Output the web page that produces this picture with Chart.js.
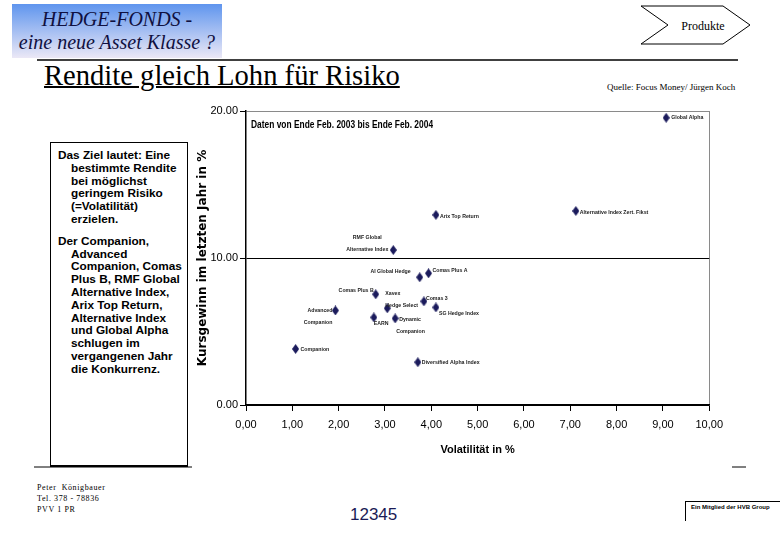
<!DOCTYPE html>
<html>
<head>
<meta charset="utf-8">
<script src="https://cdn.jsdelivr.net/npm/chart.js@4.4.1/dist/chart.umd.min.js"></script>
<style>
  body { margin: 0; background: #fff; width: 780px; height: 540px; position: relative; overflow: hidden; }
  .abs { position: absolute; white-space: nowrap; }
  #kopf {
    left: 12px; top: 4px; width: 210px; height: 54px;
    background: linear-gradient(#5f95ee, #ebe8f6);
    font: italic 20px "Liberation Serif", serif; color: #101040;
    text-align: center; line-height: 23px; padding-top: 4px; box-sizing: border-box;
  }
  #titel { left: 44px; top: 60px; font: 28.6px "Liberation Serif", serif; text-decoration: underline; text-decoration-thickness: 1.5px; }
  #quelle { left: 607px; top: 82px; font: 9px "Liberation Serif", serif; }
  #textbox {
    left: 50px; top: 142px; width: 138px; height: 325px; box-sizing: border-box;
    border: 1px solid #000; border-bottom: 2px solid #000;
    font: bold 11.8px "Liberation Sans", sans-serif; white-space: normal; color: #000;
  }
  #textbox p { margin: 0 0 9px 0; padding-left: 20px; text-indent: -13px; line-height: 12.8px; }
  #textbox p:first-child { margin-top: 6px; }
  #fuss { left: 37px; top: 482px; font: 8px "Liberation Serif", serif; line-height: 11px; letter-spacing: 0.6px; }
  #nummer { left: 350px; top: 505px; font: 17px "Liberation Sans", sans-serif; color: #1a1a55; }
  #hvb { left: 685px; top: 501px; width: 100px; height: 20px; border-top: 1px solid #000; border-left: 1px solid #000; font: bold 6px "Liberation Sans", sans-serif; padding: 2px 0 0 5px; box-sizing: border-box; }
  #datenTitel { left: 251px; top: 118px; font: bold 10.5px "Liberation Sans", sans-serif; transform: scaleX(0.8); transform-origin: left top; }
  canvas { position: absolute; left: 190px; top: 100px; }
</style>
</head>
<body>
<div id="kopf" class="abs">HEDGE-FONDS -<br>eine neue Asset Klasse ?</div>
<svg class="abs" style="left:0;top:0" width="780" height="540">
  <polygon points="641,6 723,6 750,25 723,44 641,44 668,25" fill="none" stroke="#000" stroke-width="1"/>
  <text x="703" y="30" font-family="Liberation Serif" font-size="12" text-anchor="middle">Produkte</text>
  <line x1="37" y1="60" x2="738" y2="60" stroke="#000" stroke-width="1.5"/>
  <line x1="34" y1="467" x2="192" y2="467" stroke="#000" stroke-width="1"/>
  <line x1="732" y1="467" x2="746" y2="467" stroke="#000" stroke-width="1"/>
</svg>
<div id="titel" class="abs">Rendite gleich Lohn für Risiko</div>
<div id="quelle" class="abs">Quelle: Focus Money/ Jürgen Koch</div>
<div id="textbox" class="abs">
  <p>Das Ziel lautet: Eine bestimmte Rendite bei möglichst geringem Risiko (=Volatilität) erzielen.</p>
  <p>Der Companion, Advanced Companion, Comas Plus B, RMF Global Alternative Index, Arix Top Return, Alternative Index und Global Alpha schlugen im vergangenen Jahr die Konkurrenz.</p>
</div>
<div id="fuss" class="abs">Peter&nbsp;&nbsp;Königbauer<br>Tel. 378 - 78836<br>PVV 1 PR</div>
<div id="nummer" class="abs">12345</div>
<div id="hvb" class="abs">Ein Mitglied der HVB Group</div>

<canvas id="streuung" width="540" height="365"></canvas>
<div id="datenTitel" class="abs">Daten von Ende Feb. 2003 bis Ende Feb. 2004</div>

<script>
// Fonds-Namen (Zeilenumbruch = zweite Zeile der Beschriftung)
var fonds = [
  'Global Alpha',
  'Arix Top Return',
  'Alternative Index Zert. Fikst',
  'RMF Global\nAlternative Index',
  'AI Global Hedge',
  'Comas Plus A',
  'Comas Plus B',
  'Xavex\nHedge Select',
  'Comas 3',
  'SG Hedge Index',
  'Advanced\nCompanion',
  'EARN',
  'Dynamic\nCompanion',
  'Companion',
  'Diversified Alpha Index'
];
// Volatilität in %
var volatilitaet = [9.07, 4.10, 7.12, 3.18, 3.75, 3.94, 2.80, 3.05, 3.84, 4.10, 1.93, 2.76, 3.22, 1.07, 3.71];
// Kursgewinn im letzten Jahr in %
var kursgewinn = [19.54, 12.93, 13.20, 10.54, 8.69, 8.96, 7.53, 6.58, 7.05, 6.64, 6.43, 5.96, 5.89, 3.81, 2.91];

var xTickLabels = ['0,00', '1,00', '2,00', '3,00', '4,00', '5,00', '6,00', '7,00', '8,00', '9,00', '10,00'];
var yTickLabels = ['0.00', '10.00', '20.00'];

// wo die Beschriftung neben dem Punkt steht: [dx, dy, Ausrichtung]
var labelLage = [
  [5, 0, 'left'], [4, 1, 'left'], [4, 1, 'left'], [-26, -13, 'center'],
  [-9, -6, 'right'], [4, -3, 'left'], [-2, -4, 'right'], [-2, -15, 'left'],
  [2, -3, 'left'], [3, 6, 'left'], [-3, 0, 'right'], [0, 6, 'left'],
  [4, 1, 'left'], [5, 0, 'left'], [4, 0, 'left']
];

function makeDiamond() {
  var c = document.createElement('canvas');
  c.width = 7; c.height = 10;
  var g = c.getContext('2d');
  g.fillStyle = '#1b1b5c';
  g.beginPath();
  g.moveTo(3.5, 0); g.lineTo(7, 5); g.lineTo(3.5, 10); g.lineTo(0, 5);
  g.closePath();
  g.fill();
  return c;
}

var pointLabels = {
  id: 'pointLabels',
  afterDatasetsDraw: function(chart) {
    var ctx = chart.ctx;
    var meta = chart.getDatasetMeta(0);
    ctx.save();
    ctx.font = 'bold 6px "Liberation Sans", sans-serif';
    ctx.fillStyle = '#222';
    ctx.textBaseline = 'middle';
    meta.data.forEach(function(pt, i) {
      var lage = labelLage[i];
      var zeilen = fonds[i].split('\n');
      ctx.textAlign = lage[2];
      for (var k = 0; k < zeilen.length; k++) {
        var dy = lage[1] + k * 12;
        var dx = lage[0];
        if (i === 12 && k === 1) { dx = 1; }
        ctx.save();
        ctx.translate(pt.x + dx, pt.y + dy);
        ctx.scale(0.87, 1);
        ctx.fillText(zeilen[k], 0, 0);
        ctx.restore();
      }
    });
    ctx.restore();
  }
};

function drawChart() {
  var punkte = [];
  for (var i = 0; i < fonds.length; i++) {
    punkte.push({ x: volatilitaet[i], y: kursgewinn[i] });
  }

  var tickFont = { family: 'Liberation Sans', size: 11 };
  var ctx = document.getElementById('streuung').getContext('2d');
  new Chart(ctx, {
    type: 'scatter',
    data: {
      datasets: [{
        label: 'Fonds',
        data: punkte,
        pointStyle: makeDiamond(),
        backgroundColor: '#1b1b5c',
        borderColor: '#1b1b5c'
      }]
    },
    options: {
      responsive: false,
      animation: false,
      layout: { padding: { top: 11, right: 16, left: 0, bottom: 0 } },
      plugins: { legend: { display: false }, tooltip: { enabled: false } },
      scales: {
        x: {
          type: 'linear', min: 0, max: 10,
          afterFit: function(s) { s.height = 60; },
          ticks: {
            stepSize: 1, color: '#000', font: tickFont, padding: 7, maxRotation: 0,
            callback: function(v) { return xTickLabels[Math.round(v)]; }
          },
          grid: {
            color: function(c) { return c.index === 10 ? '#8a8a8a' : 'rgba(0,0,0,0)'; },
            tickColor: '#000', tickLength: 6, lineWidth: 1
          },
          border: { color: '#000', width: 1.5 },
          title: {
            display: true, text: 'Volatilität in %', color: '#000',
            font: { family: 'Liberation Sans', size: 11, weight: 'bold' },
            padding: { top: 0, bottom: 8 }
          }
        },
        y: {
          min: 0, max: 20,
          afterFit: function(s) { s.width = 56; },
          ticks: {
            stepSize: 10, color: '#000', font: tickFont, padding: 2,
            callback: function(v) { return yTickLabels[Math.round(v / 10)]; }
          },
          grid: {
            color: function(c) { return c.tick && c.tick.value === 20 ? '#8a8a8a' : '#000'; },
            tickColor: '#000', tickLength: 6, lineWidth: 1
          },
          border: { color: '#000', width: 1.5 },
          title: {
            display: true, text: 'Kursgewinn im letzten Jahr in %', color: '#000',
            font: { family: 'DejaVu Sans', size: 12, weight: 'bold' },
            padding: { top: 6, bottom: 0 }
          }
        }
      }
    },
    plugins: [pointLabels]
  });
}

drawChart();
</script>
</body>
</html>
